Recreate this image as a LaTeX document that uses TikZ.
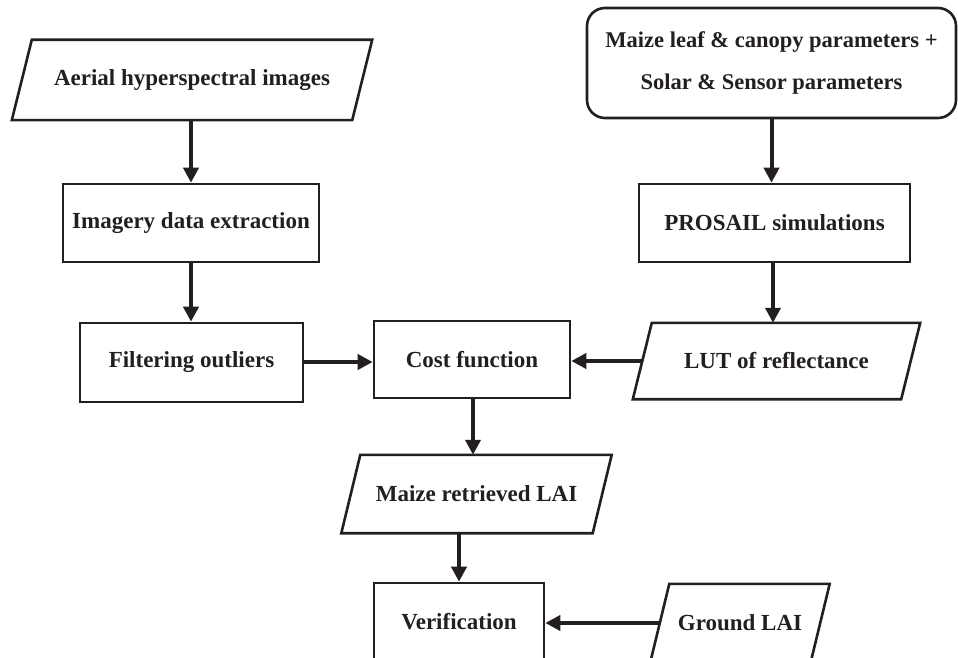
\documentclass[tikz,border=0pt]{standalone}
\usepackage{fontspec}
\setmainfont{Liberation Serif}
\usetikzlibrary{arrows.meta,calc}
\definecolor{ink}{HTML}{231F20}
\tikzset{
  every node/.style={font=\fontsize{23}{27}\selectfont\bfseries, text=ink},
  box/.style={draw=ink, line width=2.6pt, rectangle, inner sep=0pt},
  pbox/.style={rectangle, inner sep=0pt},
  pline/.style={draw=ink, line width=2.6pt, line join=miter},
  arr/.style={draw=ink, line width=4pt, -{Triangle[length=15pt,width=15pt]}}
}
\newcommand{\paradraw}[2]{%
  \draw[pline] ([xshift=#2]#1.north west) -- ([xshift=#2]#1.north east)
    -- ([xshift=-#2]#1.south east) -- ([xshift=-#2]#1.south west) -- cycle;}
\begin{document}
\begin{tikzpicture}[x=1pt,y=-1pt]
\fill[white] (0,0) rectangle (958,658);
\useasboundingbox (0,0) rectangle (958,658);
% nodes
\node[pbox, minimum width=340pt, minimum height=80pt] (aerial) at (192,80) {Aerial hyperspectral images};
\node[box, minimum width=256pt, minimum height=78pt] (imagery) at (191,223) {Imagery data extraction};
\node[box, minimum width=223pt, minimum height=79pt] (filter) at (191.5,362.5) {Filtering outliers};
\node[box, minimum width=196pt, minimum height=77pt] (cost) at (472,359.5) {Cost function};
\node[pbox, minimum width=268pt, minimum height=76pt] (lut) at (776.5,361) {LUT of reflectance};
\node[box, rounded corners=18pt, minimum width=369pt, minimum height=110pt, align=center,
  font=\fontsize{22.5}{27}\selectfont\bfseries]
  (params) at (771.5,63) {\rule{0pt}{14pt}Maize leaf \& canopy parameters +\\[15pt]Solar \& Sensor parameters};
\node[box, minimum width=271pt, minimum height=78pt] (prosail) at (774.5,223) {PROSAIL simulations};
\node[pbox, minimum width=251pt, minimum height=78pt] (maize) at (476.5,494) {Maize retrieved LAI};
\node[box, minimum width=170pt, minimum height=78pt] (verif) at (459,622) {Verification};
\node[pbox, minimum width=160pt, minimum height=78pt] (ground) at (740,623) {Ground LAI};
% parallelogram outlines
\paradraw{aerial}{10pt}
\paradraw{lut}{9.5pt}
\paradraw{maize}{9.5pt}
\paradraw{ground}{9.5pt}
% connectors
\draw[arr] (aerial.south -| imagery.north) -- (imagery.north);
\draw[arr] (imagery.south) -- (imagery.south |- filter.north);
\draw[arr] (filter.east |- 0,362) -- (cost.west |- 0,362);
\draw[arr] (lut.west) -- (lut.west -| cost.east);
\draw[arr] (params.south) -- (params.south |- prosail.north);
\draw[arr] ([xshift=-1.5pt]prosail.south) -- ([xshift=-1.5pt]prosail.south |- lut.north);
\draw[arr] ([xshift=1pt]cost.south) -- ([xshift=1pt]cost.south |- maize.north);
\draw[arr] (maize.south -| verif.north) -- (verif.north);
\draw[arr] (ground.west) -- (ground.west -| verif.east);
\end{tikzpicture}
\end{document}
